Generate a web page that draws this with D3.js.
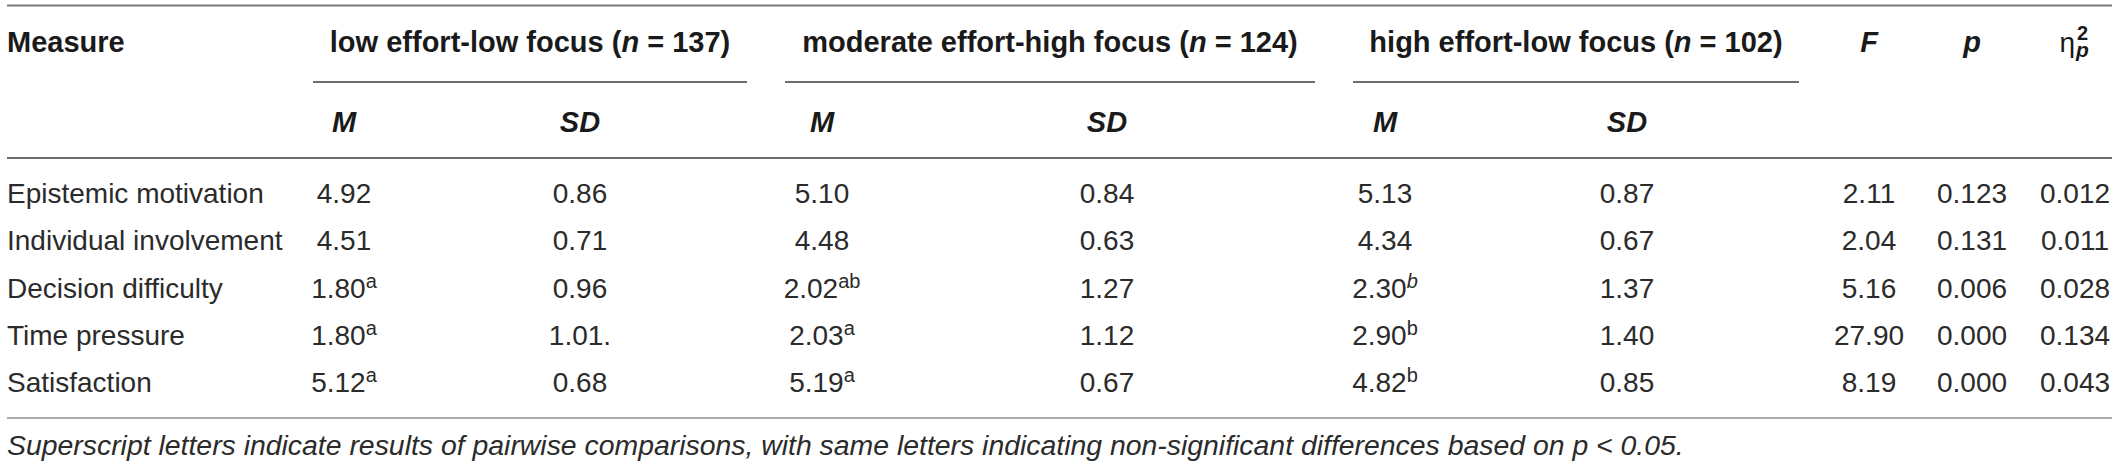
<!DOCTYPE html>
<html>
<head>
<meta charset="utf-8">
<script src="https://cdn.jsdelivr.net/npm/d3@7"></script>
<style>
  body { margin: 0; background: #fff; }
  svg { display: block; font-family: "Liberation Sans", Arial, Helvetica, sans-serif; }
  .head { font-weight: bold; font-size: 29px; fill: #1a1a1a; }
  .cell { font-size: 28px; fill: #2b2b2b; }
  .note { font-size: 28.4px; font-style: italic; fill: #2b2b2b; }
</style>
</head>
<body>
<svg id="table"></svg>
<script>
document.addEventListener("DOMContentLoaded", () => {
  var measures = ["Epistemic motivation", "Individual involvement", "Decision difficulty", "Time pressure", "Satisfaction"];
  var groups = ["low effort-low focus", "moderate effort-high focus", "high effort-low focus"];
  var groupN = [137, 124, 102];

  // means and superscripts per group
  var meanLow = [4.92, 4.51, 1.80, 1.80, 5.12];
  var meanMod = [5.10, 4.48, 2.02, 2.03, 5.19];
  var meanHigh = [5.13, 4.34, 2.30, 2.90, 4.82];
  var supLow = ["", "", "a", "a", "a"];
  var supMod = ["", "", "ab", "a", "a"];
  var supHigh = ["", "", "b", "b", "b"];
  var supHighItalic = [false, false, true, false, false];

  var sdLow = ["0.86", "0.71", "0.96", "1.01.", "0.68"];
  var sdMod = ["0.84", "0.63", "1.27", "1.12", "0.67"];
  var sdHigh = ["0.87", "0.67", "1.37", "1.40", "0.85"];

  var fValues = [2.11, 2.04, 5.16, 27.90, 8.19];
  var pValues = [0.123, 0.131, 0.006, 0.000, 0.000];
  var etaValues = [0.012, 0.011, 0.028, 0.134, 0.043];

  var note = "Superscript letters indicate results of pairwise comparisons, with same letters indicating non-significant differences based on ";

  var width = 2118, height = 467;

  var svg = d3.select("#table")
    .attr("width", width)
    .attr("height", height);

  var colKeys = ["m0", "sd0", "m1", "sd1", "m2", "sd2", "F", "p", "eta"];
  var x = d3.scaleOrdinal()
    .domain(colKeys)
    .range([344, 580, 822, 1107, 1385, 1627, 1869, 1972, 2075]);

  // spans of the group header rules
  var spanStart = d3.scaleOrdinal().domain(groups).range([313, 785, 1353]);
  var spanEnd = d3.scaleOrdinal().domain(groups).range([747, 1315, 1799]);

  var y = d3.scalePoint()
    .domain(measures)
    .range([203, 392]);

  var headY = 52, subHeadY = 132;

  // rules
  var rules = [
    {x1: 7, x2: 2112, y: 5.5, c: "#7a7a7a"},
    {x1: 7, x2: 2112, y: 158, c: "#6e6e6e"},
    {x1: 7, x2: 2112, y: 418, c: "#ababab"}
  ];
  svg.selectAll(".rule")
    .data(rules)
    .enter().append("line")
      .attr("class", "rule")
      .attr("x1", d => d.x1)
      .attr("x2", d => d.x2)
      .attr("y1", d => d.y)
      .attr("y2", d => d.y)
      .attr("stroke", d => d.c)
      .attr("stroke-width", 2);

  svg.selectAll(".group-rule")
    .data(groups)
    .enter().append("line")
      .attr("class", "group-rule")
      .attr("x1", d => spanStart(d))
      .attr("x2", d => spanEnd(d))
      .attr("y1", 82)
      .attr("y2", 82)
      .attr("stroke", "#6e6e6e")
      .attr("stroke-width", 2);

  // header row
  svg.append("text")
    .attr("class", "head")
    .attr("x", 7)
    .attr("y", headY)
    .text("Measure");

  var groupText = svg.selectAll(".group-label")
    .data(groups)
    .enter().append("text")
      .attr("class", "head group-label")
      .attr("x", d => (spanStart(d) + spanEnd(d)) / 2)
      .attr("y", headY)
      .attr("text-anchor", "middle");
  groupText.append("tspan").text(d => d + " (");
  groupText.append("tspan").attr("font-style", "italic").text("n");
  groupText.append("tspan").text((d, i) => " = " + groupN[i] + ")");

  svg.selectAll(".stat-head")
    .data(["F", "p"])
    .enter().append("text")
      .attr("class", "head stat-head")
      .attr("x", d => x(d))
      .attr("y", headY)
      .attr("text-anchor", "middle")
      .attr("font-style", "italic")
      .text(d => d);

  var eta = svg.append("g")
    .attr("transform", "translate(" + x("eta") + "," + headY + ")");
  eta.append("text")
    .attr("class", "cell")
    .attr("x", 0)
    .attr("text-anchor", "end")
    .style("fill", "#1a1a1a")
    .text("\u03B7");
  eta.append("text")
    .attr("class", "head")
    .attr("x", 2)
    .attr("y", -12)
    .style("font-size", "20px")
    .text("2");
  eta.append("text")
    .attr("class", "head")
    .attr("x", 1)
    .attr("y", 5)
    .style("font-size", "21px")
    .attr("font-style", "italic")
    .text("p");

  // M / SD sub headers
  var subHeads = [];
  groups.forEach((g, i) => {
    subHeads.push({key: "m" + i, label: "M"});
    subHeads.push({key: "sd" + i, label: "SD"});
  });
  svg.selectAll(".sub-head")
    .data(subHeads)
    .enter().append("text")
      .attr("class", "head sub-head")
      .attr("x", d => x(d.key))
      .attr("y", subHeadY)
      .attr("text-anchor", "middle")
      .attr("font-style", "italic")
      .text(d => d.label);

  // body
  svg.selectAll(".row-label")
    .data(measures)
    .enter().append("text")
      .attr("class", "cell row-label")
      .attr("x", 7)
      .attr("y", d => y(d))
      .text(d => d);

  var meanCols = [
    {key: "m0", vals: meanLow, sup: supLow, ital: measures.map(() => false)},
    {key: "m1", vals: meanMod, sup: supMod, ital: measures.map(() => false)},
    {key: "m2", vals: meanHigh, sup: supHigh, ital: supHighItalic}
  ];
  meanCols.forEach(col => {
    var t = svg.selectAll(".mean-" + col.key)
      .data(measures)
      .enter().append("text")
        .attr("class", "cell mean-" + col.key)
        .attr("x", x(col.key))
        .attr("y", d => y(d))
        .attr("text-anchor", "middle");
    t.append("tspan").text((d, i) => col.vals[i].toFixed(2));
    t.filter((d, i) => col.sup[i] !== "")
      .append("tspan")
        .attr("dy", -10)
        .style("font-size", "20px")
        .attr("font-style", d => col.ital[measures.indexOf(d)] ? "italic" : null)
        .text(d => col.sup[measures.indexOf(d)]);
  });

  var plainCols = [
    {key: "sd0", vals: sdLow},
    {key: "sd1", vals: sdMod},
    {key: "sd2", vals: sdHigh},
    {key: "F", vals: fValues.map(v => v.toFixed(2))},
    {key: "p", vals: pValues.map(v => v.toFixed(3))},
    {key: "eta", vals: etaValues.map(v => v.toFixed(3))}
  ];
  plainCols.forEach(col => {
    svg.selectAll(".val-" + col.key)
      .data(measures)
      .enter().append("text")
        .attr("class", "cell val-" + col.key)
        .attr("x", x(col.key))
        .attr("y", d => y(d))
        .attr("text-anchor", "middle")
        .text((d, i) => col.vals[i]);
  });

  // footnote
  svg.append("text")
    .attr("class", "note")
    .attr("x", 7)
    .attr("y", 455)
    .text(note + "p < 0.05.");
});
</script>
</body>
</html>
